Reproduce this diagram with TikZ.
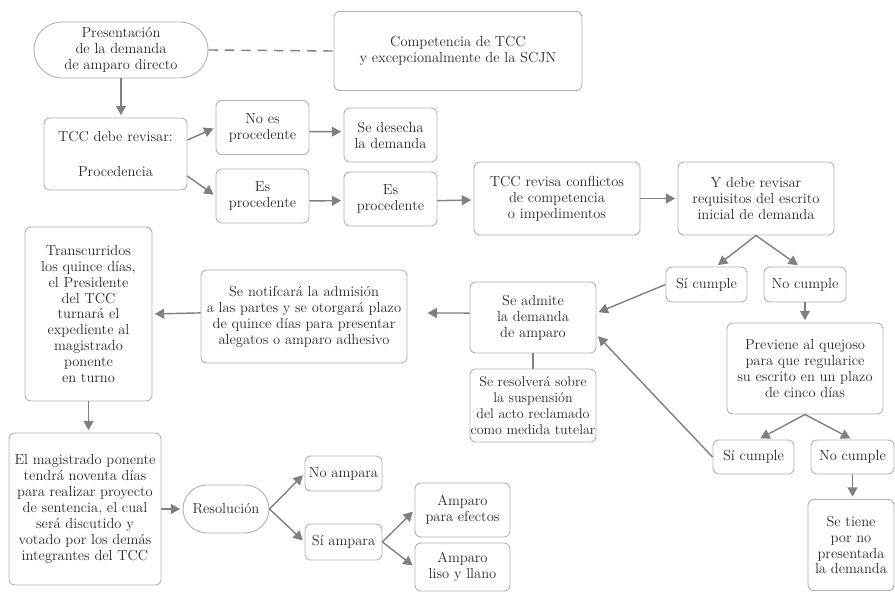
\documentclass[tikz,border=0pt]{standalone}
\usetikzlibrary{positioning}
\usetikzlibrary{arrows.meta}
\usetikzlibrary{shapes.misc}

\definecolor{borde}{RGB}{178,178,178}
\definecolor{linea}{RGB}{128,128,128}
\definecolor{texto}{RGB}{40,40,40}

\begin{document}
\begin{tikzpicture}[x=0.03cm, y=-0.03cm,
    font=\fontsize{12.4}{13.6}\selectfont,
    base/.style 2 args={draw=borde, line width=0.8pt, align=center, inner sep=0pt, text=texto,
        minimum width=#1*0.03cm, minimum height=#2*0.03cm},
    caja/.style 2 args={base={#1}{#2}, rounded corners=5pt},
    capsula/.style 2 args={base={#1}{#2}, rounded rectangle},
    flecha/.style={draw=linea, line width=1.2pt, -{Triangle[length=8pt,width=8.5pt]}, shorten >=2pt},
    enlace/.style={draw=linea, line width=1.2pt}]
    \useasboundingbox (0,0) rectangle (895,592);

    % Define the boxes of the first rows
    \node[capsula={174}{56}] (presentacion) at (121,50) {Presentación\\de la demanda\\de amparo directo};
    \node[caja={248}{79}] (competencia) at (458,51) {Competencia de TCC\\y excepcionalmente de la SCJN};
    \node[caja={143}{72}] (revisar) at (115.5,154) {TCC debe revisar:\\[1.3em]Procedencia};
    \node[caja={93}{54}] (noes) at (262.5,127.5) {No es\\procedente};
    \node[caja={93}{54}] (desecha) at (390.5,135) {Se desecha\\la demanda};
    \node[caja={93}{54}] (esproc1) at (262.5,196) {Es\\procedente};
    \node[caja={93}{54}] (esproc2) at (390.5,199) {Es\\procedente};
    \node[caja={166}{73}] (conflictos) at (557,198.5) {TCC revisa conflictos\\de competencia\\o impedimentos};
    \node[caja={156}{73}] (ydebe) at (756,198.5) {Y debe revisar\\requisitos del escrito\\inicial de demanda};

    % Define the boxes of the middle rows
    \node[caja={81}{35}] (sicumple1) at (706.5,284.5) {Sí cumple};
    \node[caja={82}{35}] (nocumple1) at (805,284.5) {No cumple};
    \node[caja={126}{71}] (admite) at (533,317.5) {Se admite\\la demanda\\de amparo};
    \node[caja={126}{73}, font=\fontsize{12}{13.6}\selectfont] (resuelve) at (533,405.5) {Se resolverá sobre\\la suspensión\\del acto reclamado\\como medida tutelar};
    \node[caja={206}{93}] (notifica) at (304,316.5) {Se notifcará la admisión\\a las partes y se otorgará plazo\\de quince días para presentar\\alegatos o amparo adhesivo};
    \node[caja={127}{174}] (transcurridos) at (88.5,314) {Transcurridos\\los quince días,\\el Presidente\\del TCC\\turnará el\\expediente al\\magistrado\\ponente\\en turno};
    \node[caja={156}{91}] (previene) at (805,368.5) {Previene al quejoso\\para que regularice\\su escrito en un plazo\\de cinco días};
    \node[caja={81}{34}] (sicumple2) at (753.5,457) {Sí cumple};
    \node[caja={83}{34}] (nocumple2) at (852.5,457) {No cumple};
    \node[caja={86}{91}] (setiene) at (851,545) {Se tiene\\por no\\presentada\\la demanda};

    % Define the boxes of the last row
    \node[caja={152}{152}] (magistrado) at (85,509) {El magistrado ponente\\tendrá noventa días\\para realizar proyecto\\de sentencia, el cual\\será discutido y\\votado por los demás\\integrantes del TCC};
    \node[capsula={86}{48}] (resolucion) at (226,509) {Resolución};
    \node[caja={77}{35}] (noampara) at (343.5,473.5) {No ampara};
    \node[caja={77}{36}] (siampara) at (343.5,542) {Sí ampara};
    \node[caja={95}{54}] (efectos) at (462.5,510) {Amparo\\para efectos};
    \node[caja={95}{48}] (liso) at (462.5,567) {Amparo\\liso y llano};

    % Draw the connectors
    \draw[enlace, dash pattern=on 8pt off 6pt] (presentacion.east) -- (competencia.west);
    \draw[flecha] (presentacion.south) -- (presentacion.south |- revisar.north);
    \draw[flecha] (revisar.11) -- (noes.west);
    \draw[flecha] (revisar.-17) -- (esproc1.west);
    \draw[flecha] (noes.-5.5) -- (desecha.176);
    \draw[flecha] (esproc1.-6) -- (esproc2.182.5);
    \draw[flecha] (esproc2.-2) -- (conflictos.181);
    \draw[flecha] (conflictos.east) -- (ydebe.west);
    \draw[flecha] (ydebe.south) -- (sicumple1.62);
    \draw[flecha] (ydebe.south) -- (nocumple1.106);
    \draw[flecha] (sicumple1.west) -- (admite.4);
    \draw[flecha] (sicumple2.west) -- (admite.-15);
    \draw[enlace] (admite.south) -- (resuelve.north);
    \draw[flecha, shorten >=0.6cm] (admite.176) -- (notifica.2);
    \draw[flecha] (notifica.178.6) -- (transcurridos.east);
    \draw[flecha] (transcurridos.south) -- (transcurridos.south |- magistrado.north);
    \draw[flecha] (magistrado.east) -- (resolucion.west);
    \draw[flecha] (nocumple1.south) -- (previene.north);
    \draw[flecha] (previene.south) -- (sicumple2.75);
    \draw[flecha] (previene.south) -- (nocumple2.north);
    \draw[flecha] (nocumple2.south) -- (nocumple2.south |- setiene.north);

    \foreach \desde/\hacia in {resolucion.east/noampara.west, resolucion.east/siampara.west,
        siampara.east/efectos.west, siampara.east/liso.west}
        \draw[flecha] (\desde) -- (\hacia);
\end{tikzpicture}
\end{document}
